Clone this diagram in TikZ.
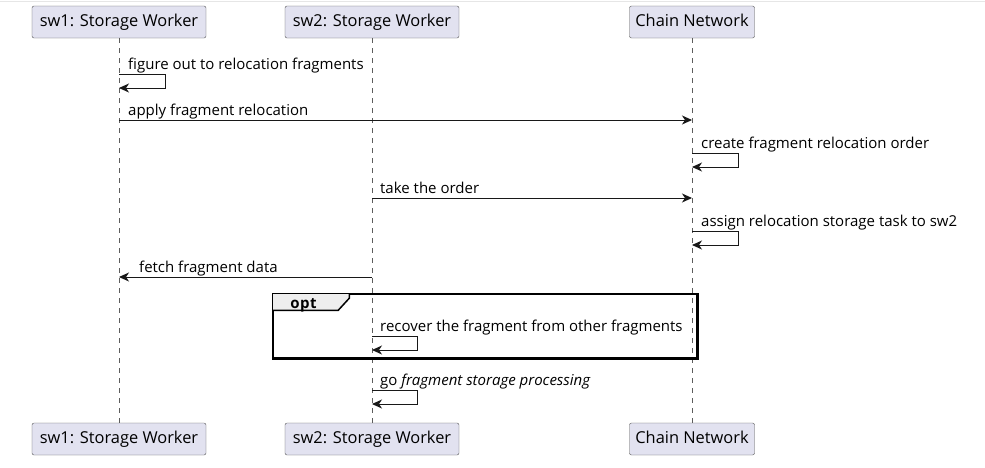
\documentclass[tikz,border=0pt]{standalone}
\usepackage{fontspec}
\setmainfont{Open Sans}
\usetikzlibrary{arrows.meta,positioning,calc}
\definecolor{partfill}{HTML}{E2E2F0}
\definecolor{umlline}{HTML}{181818}
\definecolor{optfill}{HTML}{EEEEEE}
\definecolor{edge}{HTML}{E6E6E6}

\begin{document}
\begin{tikzpicture}[x=1pt,y=-1pt,
    part/.style={draw=umlline!75,fill=partfill,rounded corners=2pt,minimum height=32pt,inner sep=0pt,
      text height=12pt,text depth=4pt,font=\fontsize{16.4}{19}\selectfont},
    life/.style={draw=umlline!70,dash pattern=on 5pt off 5pt,line width=0.6pt},
    msg/.style={draw=umlline,line width=1pt,-{Stealth[length=10pt,width=9pt,inset=3pt]}},
    lbl/.style={anchor=base west,inner sep=0pt,font=\fontsize{15}{17}\selectfont}]
    \useasboundingbox (0,0) rectangle (985,467);
    \draw[edge,line width=1pt] (0,1.5) -- (985,1.5);

    % Participants (top and bottom)
    \node[part,minimum width=174pt] (sw1) at (119,22) {sw1: Storage Worker};
    \node[part,minimum width=174pt] (sw2) at (372,22) {sw2: Storage Worker};
    \node[part,minimum width=125pt] (cn) at (692,22) {Chain Network};
    \node[part,minimum width=174pt] (sw1b) at (119,439) {sw1: Storage Worker};
    \node[part,minimum width=174pt] (sw2b) at (372,439) {sw2: Storage Worker};
    \node[part,minimum width=125pt] (cnb) at (692,439) {Chain Network};

    % Lifelines
    \draw[life] (sw1) -- (sw1b);
    \draw[life] (sw2) -- (sw2b);
    \draw[life] (cn) -- (cnb);

    % Message rows
    \coordinate (r1) at (0,74);
    \coordinate (r2) at (0,120);
    \coordinate (r3) at (0,153);
    \coordinate (r4) at (0,198);
    \coordinate (r5) at (0,231);
    \coordinate (r6) at (0,277);
    \coordinate (r7) at (0,336);
    \coordinate (r8) at (0,390);

    % Opt frame
    \node[draw,line width=1.5pt,minimum width=424pt,minimum height=64pt,inner sep=0pt] (opt) at (485,326) {};
    \fill[optfill] (opt.north west) -- ++(77,0) -- ++(0,5) -- ++(-11,12) -- ++(-66,0) -- cycle;
    \draw[line width=1.5pt] (opt.north west) ++(77,0) -- ++(0,5) -- ++(-11,12) -- ++(-66,0);
    \draw[line width=1.5pt] (opt.north west) rectangle (opt.south east);
    \node[anchor=base,font=\bfseries\fontsize{15}{17}\selectfont] (optlbl) at (303.5,308) {o\kern0.6pt p\kern0.6pt t};

    % Messages
    \draw[msg] (sw1 |- r1) -- ++(46,0) -- ++(0,14) -- ++(-46,0);
    \node[lbl] (m1) at ($(sw1 |- r1)+(9,-5)$) {figure out to relocation fragments};

    \draw[msg] (sw1 |- r2) -- (cn |- r2);
    \node[lbl] (m2) at ($(sw1 |- r2)+(9,-5)$) {apply fragment relocation};

    \draw[msg] (cn |- r3) -- ++(46,0) -- ++(0,14) -- ++(-46,0);
    \node[lbl] (m3) at ($(cn |- r3)+(9,-5)$) {create fragment relocation order};

    \draw[msg] (sw2 |- r4) -- (cn |- r4);
    \node[lbl] (m4) at ($(sw2 |- r4)+(8,-5)$) {take the order};

    \draw[msg] (cn |- r5) -- ++(46,0) -- ++(0,14) -- ++(-46,0);
    \node[lbl] (m5) at ($(cn |- r5)+(9,-5)$) {assign relocation storage task to sw2};

    \draw[msg] (sw2 |- r6) -- (sw1 |- r6);
    \node[lbl] (m6) at ($(sw1 |- r6)+(20,-5)$) {fetch fragment data};

    \draw[msg] (sw2 |- r7) -- ++(45,0) -- ++(0,14) -- ++(-45,0);
    \node[lbl] (m7) at ($(sw2 |- r7)+(8,-5)$) {recover the fragment from other fragments};

    \draw[msg] (sw2 |- r8) -- ++(45,0) -- ++(0,14) -- ++(-45,0);
    \node[lbl] (m8) at ($(sw2 |- r8)+(8,-5)$) {go \textit{fragment storage processing}};
\end{tikzpicture}
\end{document}
